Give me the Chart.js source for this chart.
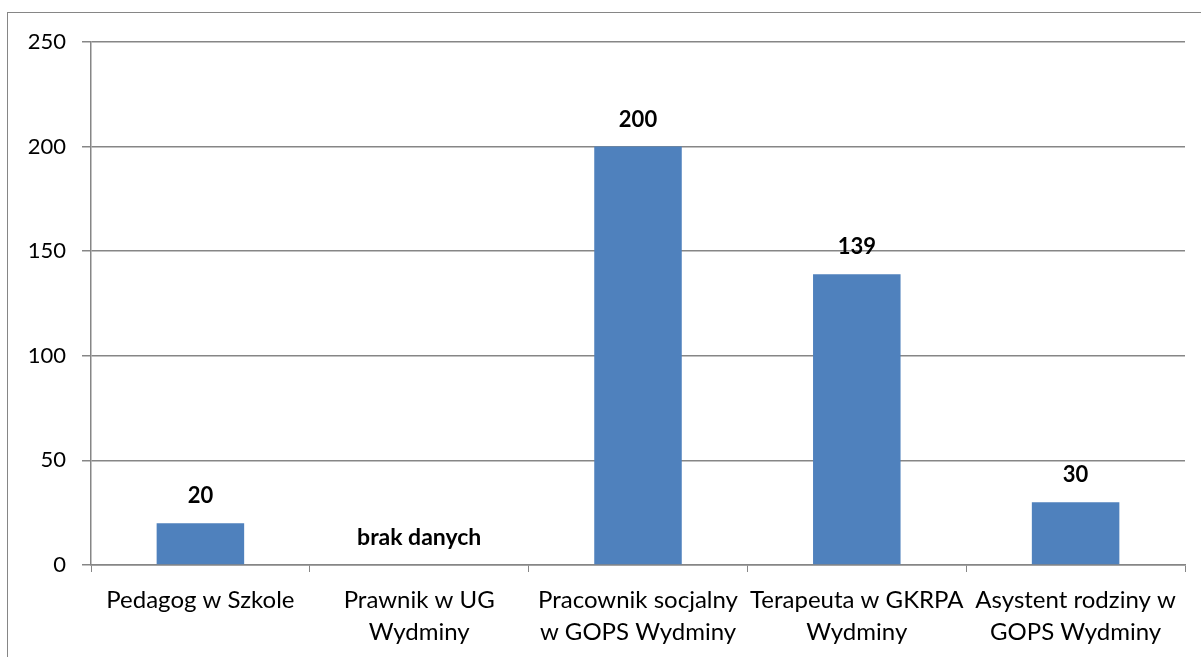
<!DOCTYPE html>
<html>
<head>
<meta charset="utf-8">
<script src="https://cdn.jsdelivr.net/npm/chart.js@4.4.0/dist/chart.umd.min.js"></script>
<style>
    html, body { margin: 0; padding: 0; background: #fff; overflow: hidden; }
    #wrap { position: relative; width: 1201px; height: 657px; }
    #frame { position: absolute; left: 7px; top: 12px; width: 1400px; height: 900px; border: 1.5px solid #868686; box-sizing: border-box; }
    canvas { position: absolute; left: 0; top: 0; }
</style>
</head>
<body>
<div id="wrap">
    <div id="frame"></div>
    <canvas id="chart" width="1201" height="657"></canvas>
</div>
<script>
const categories = [
    "Pedagog w Szkole",
    ["Prawnik w UG", "Wydminy"],
    ["Pracownik socjalny", "w GOPS Wydminy"],
    ["Terapeuta w GKRPA", "Wydminy"],
    ["Asystent rodziny w", "GOPS Wydminy"]
];
const values = [20, null, 200, 139, 30];
const valueLabels = ["20", "brak danych", "200", "139", "30"];
const yTicks = [0, 50, 100, 150, 200, 250];

const FONT = "Lato, 'Open Sans', sans-serif";
const GRID = "#868686";

// draws the numbers above the bars, and "brak danych" where there is no value
const valueLabelPlugin = {
    id: "valueLabels",
    afterDatasetsDraw(chart) {
        const ctx = chart.ctx;
        const meta = chart.getDatasetMeta(0);
        const y = chart.scales.y;
        ctx.save();
        ctx.fillStyle = "#000";
        ctx.textAlign = "center";
        ctx.textBaseline = "middle";
        meta.data.forEach((bar, i) => {
            const missing = values[i] === null;
            // Lato digits run wider than the original font, letters narrower
            ctx.font = "bold " + (missing ? 23 : 22) + "px " + FONT;
            const v = missing ? 0 : values[i];
            ctx.fillText(valueLabels[i], bar.x, y.getPixelForValue(v) - 27);
        });
        ctx.restore();
    }
};

new Chart(document.getElementById("chart"), {
    type: "bar",
    data: {
        labels: categories,
        datasets: [{
            data: values,
            backgroundColor: "#4f81bd",
            barPercentage: 0.4,
            categoryPercentage: 1.0
        }]
    },
    options: {
        responsive: false,
        animation: false,
        layout: { padding: { top: 42, right: 16, left: 0, bottom: 0 } },
        plugins: {
            legend: { display: false },
            tooltip: { enabled: false }
        },
        scales: {
            x: {
                grid: {
                    offset: true,
                    drawOnChartArea: false,
                    drawTicks: true,
                    tickLength: 7,
                    color: GRID
                },
                border: { color: GRID, width: 1.5 },
                ticks: {
                    color: "#000",
                    font: { family: FONT, size: 24, lineHeight: 1.33 },
                    padding: 12,
                    maxRotation: 0,
                    autoSkip: false
                },
                afterFit(scale) { scale.height = 92; }
            },
            y: {
                min: 0,
                max: 250,
                afterBuildTicks(scale) { scale.ticks = yTicks.map(v => ({ value: v })); },
                grid: {
                    color: GRID,
                    lineWidth: 1.5,
                    drawTicks: true,
                    tickLength: 9
                },
                border: { color: GRID, width: 1.5 },
                ticks: {
                    color: "#000",
                    font: { family: FONT, size: 22 },
                    padding: 16
                },
                afterFit(scale) { scale.width = 91; }
            }
        }
    },
    plugins: [valueLabelPlugin]
});
</script>
</body>
</html>
